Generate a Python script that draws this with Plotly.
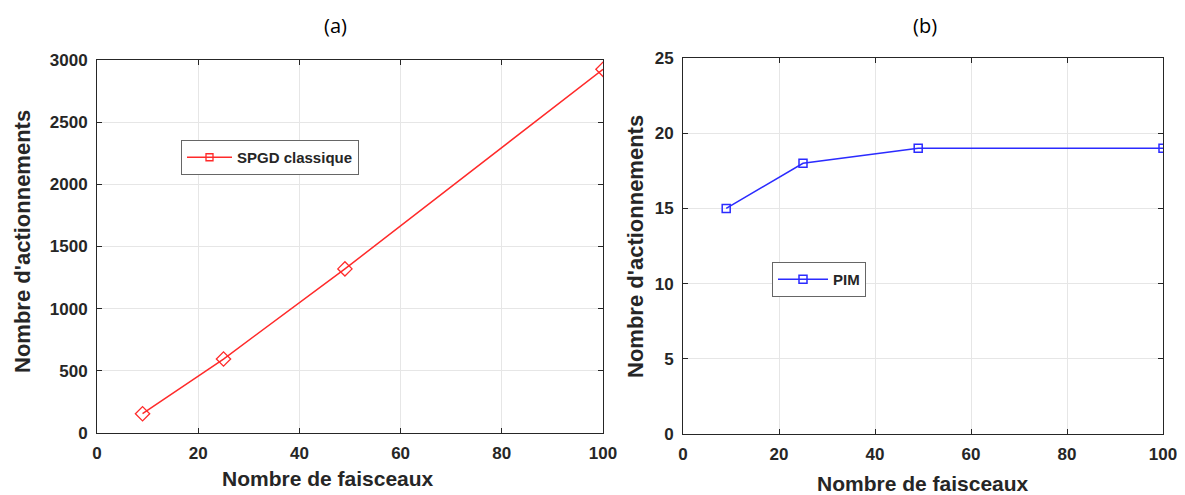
import plotly.graph_objects as go

# Data
faisceaux = [9, 25, 49, 100]
spgd_classique = [155, 595, 1320, 2925]
pim = [15, 18, 19, 19]

x_ticks = [0, 20, 40, 60, 80, 100]
ya_ticks = [0, 500, 1000, 1500, 2000, 2500, 3000]
yb_ticks = [0, 5, 10, 15, 20, 25]

# page body has an 8px margin: size the figure to fit the 1185x495 window
OFF = 8
W, H = 1185 - OFF, 495 - OFF
RED = "#ff2a2a"
BLUE = "#2b2bff"
TXT = "#262626"
FONT = "Liberation Sans"


def px(x):
    return (x - OFF) / W


def py(y):
    return 1 - (y - OFF) / H


fig = go.Figure()

# (a) plotted line with diamond markers
fig.add_trace(go.Scatter(
    x=faisceaux, y=spgd_classique, mode="lines+markers",
    line=dict(color=RED, width=1.5),
    marker=dict(symbol="diamond-open", size=11, color=RED, line=dict(width=1.3)),
    showlegend=False, xaxis="x", yaxis="y"))
# legend entry (square marker as in the reference legend)
fig.add_trace(go.Scatter(
    x=[None], y=[None], mode="lines+markers", name="SPGD classique",
    line=dict(color=RED, width=1.5),
    marker=dict(symbol="square-open", size=7, color=RED, line=dict(width=1.3)),
    legend="legend", xaxis="x", yaxis="y"))

# (b)
fig.add_trace(go.Scatter(
    x=faisceaux, y=pim, mode="lines+markers", name="PIM",
    line=dict(color=BLUE, width=1.5),
    marker=dict(symbol="square-open", size=8, color=BLUE, line=dict(width=1.5)),
    legend="legend2", xaxis="x2", yaxis="y2"))

axis_common = dict(
    showline=True, mirror="ticks", linecolor="#262626", linewidth=1,
    ticks="inside", ticklen=5, tickcolor="#262626",
    showgrid=True, gridcolor="#e6e6e6", gridwidth=1, zeroline=False,
    automargin=False,
    tickfont=dict(family=FONT, size=17, color=TXT, weight="bold"),
)

ydom_a = [py(433), py(60)]
ydom_b = [py(434), py(58)]
leg_font = dict(family=FONT, size=15, color=TXT, weight="bold")
fig.update_layout(
    width=W, height=H, paper_bgcolor="white", plot_bgcolor="white",
    margin=dict(l=0, r=0, t=0, b=0),
    xaxis=dict(domain=[px(97), px(603)], range=[0, 100], tickvals=x_ticks, anchor="y",
               ticklabelstandoff=5, **axis_common),
    yaxis=dict(domain=ydom_a, range=[0, 3000], tickvals=ya_ticks, anchor="x",
               ticklabelstandoff=5, **axis_common),
    xaxis2=dict(domain=[px(683), px(1163)], range=[0, 100], tickvals=x_ticks, anchor="y2",
                ticklabelstandoff=5, **axis_common),
    yaxis2=dict(domain=ydom_b, range=[0, 25], tickvals=yb_ticks, anchor="x2",
                ticklabelstandoff=5, **axis_common),
    legend=dict(x=px(181), y=py(140), xanchor="left", yanchor="top",
                bgcolor="white", bordercolor="#666666", borderwidth=1,
                font=leg_font, itemwidth=45),
    legend2=dict(x=px(772), y=py(262), xanchor="left", yanchor="top",
                 bgcolor="white", bordercolor="#666666", borderwidth=1,
                 font=leg_font, itemwidth=50),
    showlegend=True,
)

ann = []
for t, xc in [("(a)", 335), ("(b)", 925)]:
    ann.append(dict(text=t, x=px(xc), y=py(25), xref="paper", yref="paper",
                    xanchor="center", yanchor="middle", showarrow=False,
                    font=dict(family="Open Sans", size=20, color="black")))
for xc, yc in [(328, 478), (923, 483)]:
    ann.append(dict(text="Nombre de faisceaux", x=px(xc), y=py(yc), xref="paper", yref="paper",
                    xanchor="center", yanchor="middle", showarrow=False,
                    font=dict(family=FONT, size=21, color=TXT, weight="bold")))
for xc, yc in [(22, 242), (635, 246)]:
    ann.append(dict(text="Nombre d'actionnements", x=px(xc), y=py(yc), xref="paper", yref="paper",
                    xanchor="center", yanchor="middle", showarrow=False, textangle=-90,
                    font=dict(family=FONT, size=22, color=TXT, weight="bold")))
fig.update_layout(annotations=ann)

fig.write_html("out.html")
